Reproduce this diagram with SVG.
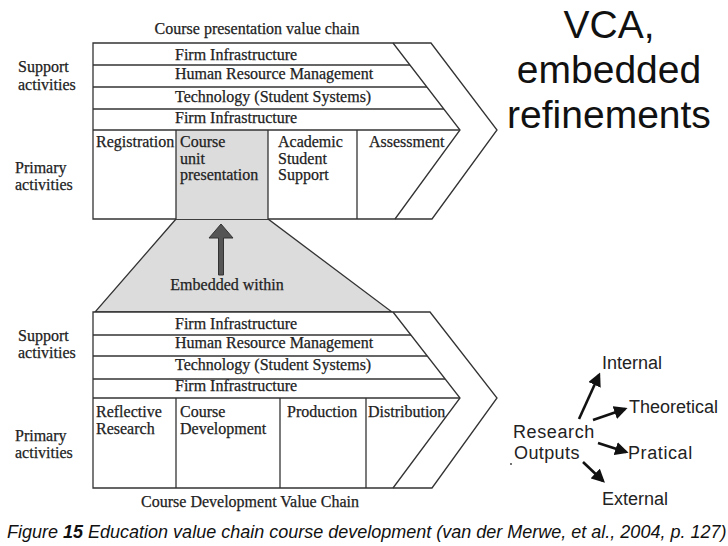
<svg xmlns="http://www.w3.org/2000/svg" width="728" height="546" viewBox="0 0 728 546">
<style>
.ln{fill:none;stroke:#333;stroke-width:1.3}
.sh{fill:#fff;stroke:#333;stroke-width:1.3}
.gr{fill:#dcdcdc;stroke:#333;stroke-width:1.3}
.s{font-family:"Liberation Serif","Times New Roman",serif;font-size:16px;fill:#222;stroke:#222;stroke-width:0.25}
.a{font-family:"Liberation Sans",Arial,sans-serif;fill:#111}
.ro{font-family:"Liberation Sans",Arial,sans-serif;font-size:18px;fill:#222}
.ar{stroke:#111;stroke-width:2.6;fill:none;marker-end:url(#ah)}
</style>
<defs>
<marker id="ah" viewBox="0 0 10 10" refX="8" refY="5" markerWidth="5.2" markerHeight="5.2" orient="auto" markerUnits="strokeWidth">
<path d="M0,0 L10,5 L0,10 z" fill="#111"/>
</marker>
</defs>
<rect width="728" height="546" fill="#fff"/>

<g id="trapezoid">
<polygon class="gr" points="176,219 268,219 392,312 95,312"/>
</g>

<g id="top-chain">
<polygon class="sh" points="93,43 431,43 497,130 432,219 93,219"/>
<rect x="176" y="130" width="92" height="89" fill="#dcdcdc"/>
<polyline class="ln" points="393,43 460,130 395,219"/>
<line class="ln" x1="93" y1="65" x2="410" y2="65"/>
<line class="ln" x1="93" y1="87" x2="427" y2="87"/>
<line class="ln" x1="93" y1="109" x2="444" y2="109"/>
<line class="ln" x1="93" y1="130" x2="460" y2="130"/>
<line class="ln" x1="176" y1="130" x2="176" y2="219"/>
<line class="ln" x1="268" y1="130" x2="268" y2="219"/>
<line class="ln" x1="357" y1="130" x2="357" y2="219"/>
<text class="s" x="257" y="34" text-anchor="middle">Course presentation value chain</text>
<text class="s" x="175" y="60">Firm Infrastructure</text>
<text class="s" x="175" y="79">Human Resource Management</text>
<text class="s" x="175" y="102">Technology (Student Systems)</text>
<text class="s" x="175" y="123">Firm Infrastructure</text>
<text class="s" x="18" y="72">Support</text>
<text class="s" x="18" y="90">activities</text>
<text class="s" x="15" y="173">Primary</text>
<text class="s" x="15" y="190">activities</text>
<text class="s" x="96" y="147">Registration</text>
<text class="s" x="180" y="147">Course</text>
<text class="s" x="180" y="163.5">unit</text>
<text class="s" x="180" y="180">presentation</text>
<text class="s" x="278" y="147">Academic</text>
<text class="s" x="278" y="163.5">Student</text>
<text class="s" x="278" y="180">Support</text>
<text class="s" x="369" y="147">Assessment</text>
</g>

<g id="embedded-arrow">
<polygon points="218.5,275 223.5,275 223.5,238 233,238 221,224 209,238 218.5,238" fill="#555" stroke="#333" stroke-width="1"/>
<text class="s" x="227" y="290" text-anchor="middle">Embedded within</text>
</g>

<g id="bottom-chain">
<polygon class="sh" points="93,312 430,312 497,398 432,488 93,488"/>
<polyline class="ln" points="393,312 460,398 393,488"/>
<line class="ln" x1="93" y1="335" x2="411" y2="335"/>
<line class="ln" x1="93" y1="356" x2="427" y2="356"/>
<line class="ln" x1="93" y1="379" x2="445" y2="379"/>
<line class="ln" x1="93" y1="398" x2="460" y2="398"/>
<line class="ln" x1="176" y1="398" x2="176" y2="488"/>
<line class="ln" x1="280" y1="398" x2="280" y2="488"/>
<line class="ln" x1="366" y1="398" x2="366" y2="488"/>
<text class="s" x="175" y="329">Firm Infrastructure</text>
<text class="s" x="175" y="348">Human Resource Management</text>
<text class="s" x="175" y="370">Technology (Student Systems)</text>
<text class="s" x="175" y="391">Firm Infrastructure</text>
<text class="s" x="18" y="341">Support</text>
<text class="s" x="18" y="358">activities</text>
<text class="s" x="15" y="441">Primary</text>
<text class="s" x="15" y="458">activities</text>
<text class="s" x="96" y="417">Reflective</text>
<text class="s" x="96" y="434">Research</text>
<text class="s" x="180" y="417">Course</text>
<text class="s" x="180" y="434">Development</text>
<text class="s" x="287" y="417">Production</text>
<text class="s" x="368" y="417">Distribution</text>
<text class="s" x="250" y="507" text-anchor="middle">Course Development Value Chain</text>
</g>

<g id="title">
<text class="a" font-size="39" x="609" y="38" text-anchor="middle">VCA,</text>
<text class="a" font-size="39" x="609" y="83" text-anchor="middle">embedded</text>
<text class="a" font-size="39" x="609" y="128" text-anchor="middle">refinements</text>
</g>

<g id="research-outputs">
<text class="ro" x="513" y="438" fill="#444" letter-spacing="0.6">Research</text>
<text class="ro" x="514" y="459" fill="#444" letter-spacing="0.4">Outputs</text>
<circle cx="511" cy="464" r="0.9" fill="#333"/>
</g>
<g id="internal"><text class="ro" x="602" y="369">Internal</text></g>
<g id="theoretical"><text class="ro" x="629" y="413">Theoretical</text></g>
<g id="pratical"><text class="ro" x="628" y="459" letter-spacing="0.6">Pratical</text></g>
<g id="external"><text class="ro" x="602" y="505">External</text></g>

<g id="connectors">
<line class="ar" x1="579" y1="419" x2="599" y2="375"/>
<line class="ar" x1="593" y1="420" x2="625" y2="409"/>
<line class="ar" x1="598" y1="443" x2="626" y2="452"/>
<line class="ar" x1="583" y1="462" x2="603" y2="481"/>
</g>

<g id="caption">
<text class="a" font-size="18" x="7" y="538" font-style="italic">Figure <tspan font-weight="bold">15</tspan> Education value chain course development (van der Merwe, et al., 2004, p. 127)</text>
</g>
</svg>
